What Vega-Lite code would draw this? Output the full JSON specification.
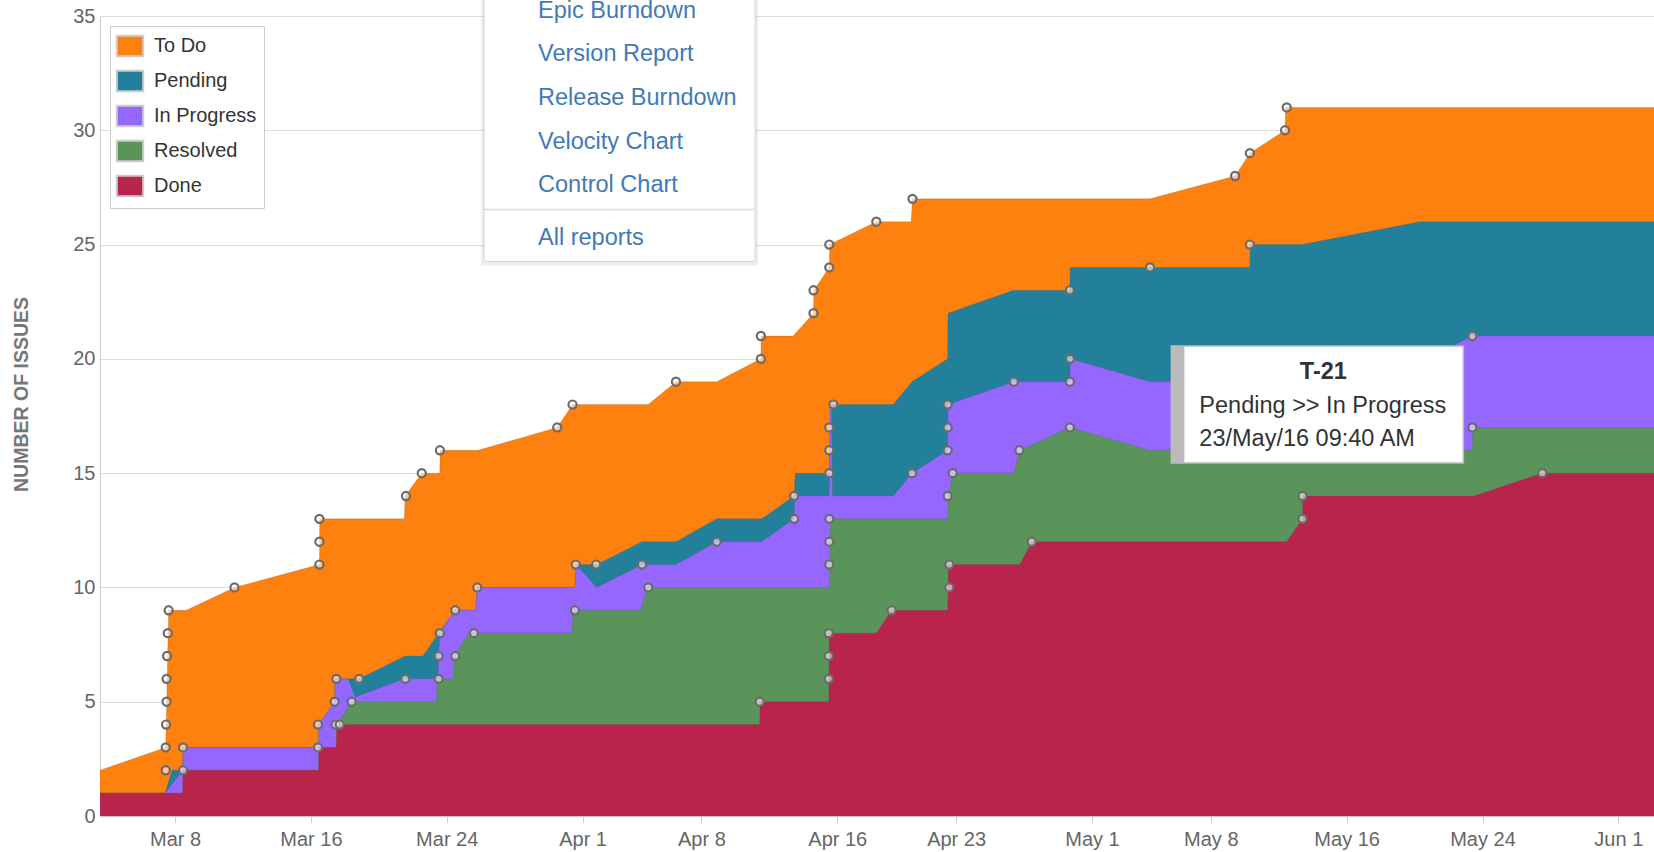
{
  "$schema": "https://vega.github.io/schema/vega-lite/v6.json",
  "width": 1554,
  "height": 800,
  "autosize": {"type": "none"},
  "padding": {"left": 100, "top": 16, "right": 0, "bottom": 36},
  "background": "white",
  "config": {
    "view": {"stroke": null},
    "font": "Liberation Sans",
    "legend": {
      "orient": "top-left",
      "offset": 10,
      "padding": 7,
      "rowPadding": 5,
      "labelOffset": 11,
      "labelFontSize": 20,
      "labelColor": "#333333",
      "labelFont": "Liberation Sans",
      "symbolSize": 576,
      "symbolType": "M-1.1,-0.85H1.1V0.85H-1.1Z",
      "symbolStrokeWidth": 2,
      "symbolStrokeColor": "#cccccc",
      "symbolOpacity": 1,
      "strokeColor": "#cccccc",
      "fillColor": "#ffffff"
    }
  },
  "datasets": {
    "flow": [
      {"s": "To Do", "t": "2016-03-03T13:55", "v": 2},
      {"s": "To Do", "t": "2016-03-07T10:48", "v": 3},
      {"s": "To Do", "t": "2016-03-07T14:53", "v": 9},
      {"s": "To Do", "t": "2016-03-08T15:50", "v": 9},
      {"s": "To Do", "t": "2016-03-11T12:00", "v": 10},
      {"s": "To Do", "t": "2016-03-16T12:00", "v": 11},
      {"s": "To Do", "t": "2016-03-16T12:29", "v": 13},
      {"s": "To Do", "t": "2016-03-21T12:00", "v": 13},
      {"s": "To Do", "t": "2016-03-21T13:10", "v": 14},
      {"s": "To Do", "t": "2016-03-22T12:43", "v": 15},
      {"s": "To Do", "t": "2016-03-23T14:10", "v": 15},
      {"s": "To Do", "t": "2016-03-23T14:38", "v": 16},
      {"s": "To Do", "t": "2016-03-25T20:24", "v": 16},
      {"s": "To Do", "t": "2016-03-30T12:14", "v": 17},
      {"s": "To Do", "t": "2016-03-31T09:50", "v": 18},
      {"s": "To Do", "t": "2016-04-04T20:53", "v": 18},
      {"s": "To Do", "t": "2016-04-06T12:00", "v": 19},
      {"s": "To Do", "t": "2016-04-08T21:36", "v": 19},
      {"s": "To Do", "t": "2016-04-11T12:00", "v": 20},
      {"s": "To Do", "t": "2016-04-11T12:29", "v": 21},
      {"s": "To Do", "t": "2016-04-13T09:36", "v": 21},
      {"s": "To Do", "t": "2016-04-14T14:24", "v": 22},
      {"s": "To Do", "t": "2016-04-14T14:53", "v": 23},
      {"s": "To Do", "t": "2016-04-15T12:43", "v": 24},
      {"s": "To Do", "t": "2016-04-15T13:12", "v": 25},
      {"s": "To Do", "t": "2016-04-18T07:12", "v": 26},
      {"s": "To Do", "t": "2016-04-20T08:24", "v": 26},
      {"s": "To Do", "t": "2016-04-20T10:19", "v": 27},
      {"s": "To Do", "t": "2016-05-04T10:05", "v": 27},
      {"s": "To Do", "t": "2016-05-09T10:19", "v": 28},
      {"s": "To Do", "t": "2016-05-10T07:12", "v": 29},
      {"s": "To Do", "t": "2016-05-12T08:53", "v": 30},
      {"s": "To Do", "t": "2016-05-12T09:36", "v": 31},
      {"s": "To Do", "t": "2016-06-04T00:00", "v": 31},

      {"s": "Pending", "t": "2016-03-03T13:55", "v": 1},
      {"s": "Pending", "t": "2016-03-07T09:50", "v": 1},
      {"s": "Pending", "t": "2016-03-07T19:41", "v": 2},
      {"s": "Pending", "t": "2016-03-08T10:48", "v": 2},
      {"s": "Pending", "t": "2016-03-08T11:17", "v": 3},
      {"s": "Pending", "t": "2016-03-16T10:48", "v": 3},
      {"s": "Pending", "t": "2016-03-16T11:17", "v": 4},
      {"s": "Pending", "t": "2016-03-17T09:36", "v": 5},
      {"s": "Pending", "t": "2016-03-17T10:05", "v": 6},
      {"s": "Pending", "t": "2016-03-18T20:10", "v": 6},
      {"s": "Pending", "t": "2016-03-21T13:26", "v": 7},
      {"s": "Pending", "t": "2016-03-22T14:24", "v": 7},
      {"s": "Pending", "t": "2016-03-23T12:29", "v": 8},
      {"s": "Pending", "t": "2016-03-24T12:00", "v": 9},
      {"s": "Pending", "t": "2016-03-25T16:48", "v": 9},
      {"s": "Pending", "t": "2016-03-25T19:12", "v": 10},
      {"s": "Pending", "t": "2016-03-31T13:12", "v": 10},
      {"s": "Pending", "t": "2016-03-31T14:53", "v": 11},
      {"s": "Pending", "t": "2016-04-01T20:10", "v": 11},
      {"s": "Pending", "t": "2016-04-04T12:00", "v": 12},
      {"s": "Pending", "t": "2016-04-06T12:00", "v": 12},
      {"s": "Pending", "t": "2016-04-08T21:36", "v": 13},
      {"s": "Pending", "t": "2016-04-11T13:12", "v": 13},
      {"s": "Pending", "t": "2016-04-13T11:02", "v": 14},
      {"s": "Pending", "t": "2016-04-13T12:29", "v": 15},
      {"s": "Pending", "t": "2016-04-15T12:43", "v": 15},
      {"s": "Pending", "t": "2016-04-15T14:24", "v": 18},
      {"s": "Pending", "t": "2016-04-19T07:12", "v": 18},
      {"s": "Pending", "t": "2016-04-20T09:36", "v": 19},
      {"s": "Pending", "t": "2016-04-22T12:00", "v": 20},
      {"s": "Pending", "t": "2016-04-22T12:29", "v": 22},
      {"s": "Pending", "t": "2016-04-26T08:53", "v": 23},
      {"s": "Pending", "t": "2016-04-29T16:48", "v": 23},
      {"s": "Pending", "t": "2016-04-29T17:17", "v": 24},
      {"s": "Pending", "t": "2016-05-10T07:12", "v": 24},
      {"s": "Pending", "t": "2016-05-10T07:41", "v": 25},
      {"s": "Pending", "t": "2016-05-13T08:24", "v": 25},
      {"s": "Pending", "t": "2016-05-20T07:12", "v": 26},
      {"s": "Pending", "t": "2016-06-04T00:00", "v": 26},

      {"s": "In Progress", "t": "2016-03-03T13:55", "v": 1},
      {"s": "In Progress", "t": "2016-03-07T09:50", "v": 1},
      {"s": "In Progress", "t": "2016-03-08T10:48", "v": 2},
      {"s": "In Progress", "t": "2016-03-08T11:17", "v": 3},
      {"s": "In Progress", "t": "2016-03-16T10:48", "v": 3},
      {"s": "In Progress", "t": "2016-03-16T11:17", "v": 4},
      {"s": "In Progress", "t": "2016-03-17T09:36", "v": 5},
      {"s": "In Progress", "t": "2016-03-17T10:05", "v": 6},
      {"s": "In Progress", "t": "2016-03-18T04:48", "v": 6},
      {"s": "In Progress", "t": "2016-03-18T14:24", "v": 5.2},
      {"s": "In Progress", "t": "2016-03-21T12:00", "v": 6},
      {"s": "In Progress", "t": "2016-03-23T12:00", "v": 6},
      {"s": "In Progress", "t": "2016-03-23T12:29", "v": 7},
      {"s": "In Progress", "t": "2016-03-23T14:24", "v": 8},
      {"s": "In Progress", "t": "2016-03-24T10:48", "v": 9},
      {"s": "In Progress", "t": "2016-03-25T16:48", "v": 9},
      {"s": "In Progress", "t": "2016-03-25T19:12", "v": 10},
      {"s": "In Progress", "t": "2016-03-31T13:12", "v": 10},
      {"s": "In Progress", "t": "2016-03-31T14:53", "v": 11},
      {"s": "In Progress", "t": "2016-04-01T20:10", "v": 10},
      {"s": "In Progress", "t": "2016-04-04T12:00", "v": 11},
      {"s": "In Progress", "t": "2016-04-06T12:00", "v": 11},
      {"s": "In Progress", "t": "2016-04-08T21:36", "v": 12},
      {"s": "In Progress", "t": "2016-04-11T13:12", "v": 12},
      {"s": "In Progress", "t": "2016-04-13T11:02", "v": 13},
      {"s": "In Progress", "t": "2016-04-13T12:00", "v": 14},
      {"s": "In Progress", "t": "2016-04-15T12:43", "v": 14},
      {"s": "In Progress", "t": "2016-04-15T13:55", "v": 18},
      {"s": "In Progress", "t": "2016-04-15T15:50", "v": 18},
      {"s": "In Progress", "t": "2016-04-15T17:17", "v": 14},
      {"s": "In Progress", "t": "2016-04-19T07:12", "v": 14},
      {"s": "In Progress", "t": "2016-04-20T09:36", "v": 15},
      {"s": "In Progress", "t": "2016-04-22T12:00", "v": 16},
      {"s": "In Progress", "t": "2016-04-22T12:29", "v": 18},
      {"s": "In Progress", "t": "2016-04-26T10:19", "v": 19},
      {"s": "In Progress", "t": "2016-04-29T16:48", "v": 19},
      {"s": "In Progress", "t": "2016-04-29T17:17", "v": 20},
      {"s": "In Progress", "t": "2016-05-04T10:05", "v": 19},
      {"s": "In Progress", "t": "2016-05-17T21:36", "v": 19},
      {"s": "In Progress", "t": "2016-05-23T09:40", "v": 21},
      {"s": "In Progress", "t": "2016-06-04T00:00", "v": 21},

      {"s": "Resolved", "t": "2016-03-03T13:55", "v": 1},
      {"s": "Resolved", "t": "2016-03-08T10:48", "v": 1},
      {"s": "Resolved", "t": "2016-03-08T11:17", "v": 2},
      {"s": "Resolved", "t": "2016-03-16T10:48", "v": 2},
      {"s": "Resolved", "t": "2016-03-16T11:17", "v": 3},
      {"s": "Resolved", "t": "2016-03-17T12:00", "v": 3},
      {"s": "Resolved", "t": "2016-03-17T12:29", "v": 4},
      {"s": "Resolved", "t": "2016-03-18T09:36", "v": 5},
      {"s": "Resolved", "t": "2016-03-23T09:36", "v": 5},
      {"s": "Resolved", "t": "2016-03-23T10:05", "v": 6},
      {"s": "Resolved", "t": "2016-03-24T09:36", "v": 6},
      {"s": "Resolved", "t": "2016-03-24T10:48", "v": 7},
      {"s": "Resolved", "t": "2016-03-25T07:12", "v": 8},
      {"s": "Resolved", "t": "2016-03-31T08:24", "v": 8},
      {"s": "Resolved", "t": "2016-03-31T11:17", "v": 9},
      {"s": "Resolved", "t": "2016-04-04T09:36", "v": 9},
      {"s": "Resolved", "t": "2016-04-04T20:24", "v": 10},
      {"s": "Resolved", "t": "2016-04-15T12:43", "v": 10},
      {"s": "Resolved", "t": "2016-04-15T14:24", "v": 13},
      {"s": "Resolved", "t": "2016-04-22T12:00", "v": 13},
      {"s": "Resolved", "t": "2016-04-22T13:12", "v": 14},
      {"s": "Resolved", "t": "2016-04-22T19:12", "v": 15},
      {"s": "Resolved", "t": "2016-04-26T09:36", "v": 15},
      {"s": "Resolved", "t": "2016-04-26T18:14", "v": 16},
      {"s": "Resolved", "t": "2016-04-29T16:48", "v": 17},
      {"s": "Resolved", "t": "2016-05-04T10:05", "v": 16},
      {"s": "Resolved", "t": "2016-05-23T09:40", "v": 16},
      {"s": "Resolved", "t": "2016-05-23T10:05", "v": 17},
      {"s": "Resolved", "t": "2016-06-04T00:00", "v": 17},

      {"s": "Done", "t": "2016-03-03T13:55", "v": 1},
      {"s": "Done", "t": "2016-03-08T10:48", "v": 1},
      {"s": "Done", "t": "2016-03-08T11:17", "v": 2},
      {"s": "Done", "t": "2016-03-16T10:48", "v": 2},
      {"s": "Done", "t": "2016-03-16T11:17", "v": 3},
      {"s": "Done", "t": "2016-03-17T12:00", "v": 3},
      {"s": "Done", "t": "2016-03-17T12:29", "v": 4},
      {"s": "Done", "t": "2016-04-11T10:19", "v": 4},
      {"s": "Done", "t": "2016-04-11T10:48", "v": 5},
      {"s": "Done", "t": "2016-04-15T12:00", "v": 5},
      {"s": "Done", "t": "2016-04-15T12:29", "v": 8},
      {"s": "Done", "t": "2016-04-18T07:12", "v": 8},
      {"s": "Done", "t": "2016-04-19T04:48", "v": 9},
      {"s": "Done", "t": "2016-04-22T12:00", "v": 9},
      {"s": "Done", "t": "2016-04-22T13:12", "v": 11},
      {"s": "Done", "t": "2016-04-26T18:14", "v": 11},
      {"s": "Done", "t": "2016-04-27T10:48", "v": 12},
      {"s": "Done", "t": "2016-05-12T11:17", "v": 12},
      {"s": "Done", "t": "2016-05-13T09:36", "v": 13},
      {"s": "Done", "t": "2016-05-13T10:05", "v": 14},
      {"s": "Done", "t": "2016-05-23T12:00", "v": 14},
      {"s": "Done", "t": "2016-05-27T12:29", "v": 15},
      {"s": "Done", "t": "2016-06-04T00:00", "v": 15}
    ],
    "dots": [
      {"t": "2016-03-07T10:48", "v": 2},
      {"t": "2016-03-07T10:48", "v": 3},
      {"t": "2016-03-07T11:17", "v": 4},
      {"t": "2016-03-07T12:00", "v": 5},
      {"t": "2016-03-07T12:00", "v": 6},
      {"t": "2016-03-07T12:43", "v": 7},
      {"t": "2016-03-07T13:41", "v": 8},
      {"t": "2016-03-07T14:53", "v": 9},
      {"t": "2016-03-08T11:17", "v": 2},
      {"t": "2016-03-08T11:17", "v": 3},
      {"t": "2016-03-11T12:00", "v": 10},
      {"t": "2016-03-16T10:05", "v": 3},
      {"t": "2016-03-16T10:05", "v": 4},
      {"t": "2016-03-16T12:00", "v": 11},
      {"t": "2016-03-16T12:00", "v": 12},
      {"t": "2016-03-16T12:00", "v": 13},
      {"t": "2016-03-17T09:36", "v": 5},
      {"t": "2016-03-17T12:00", "v": 6},
      {"t": "2016-03-17T10:48", "v": 4},
      {"t": "2016-03-17T16:48", "v": 4},
      {"t": "2016-03-18T09:36", "v": 5},
      {"t": "2016-03-18T20:10", "v": 6},
      {"t": "2016-03-21T13:26", "v": 6},
      {"t": "2016-03-21T14:24", "v": 14},
      {"t": "2016-03-22T12:43", "v": 15},
      {"t": "2016-03-23T12:29", "v": 6},
      {"t": "2016-03-23T12:29", "v": 7},
      {"t": "2016-03-23T14:24", "v": 8},
      {"t": "2016-03-23T14:24", "v": 16},
      {"t": "2016-03-24T12:00", "v": 7},
      {"t": "2016-03-24T12:00", "v": 9},
      {"t": "2016-03-25T14:24", "v": 8},
      {"t": "2016-03-25T19:12", "v": 10},
      {"t": "2016-03-30T12:14", "v": 17},
      {"t": "2016-03-31T09:50", "v": 18},
      {"t": "2016-03-31T13:12", "v": 9},
      {"t": "2016-03-31T14:24", "v": 11},
      {"t": "2016-04-01T19:12", "v": 11},
      {"t": "2016-04-04T12:00", "v": 11},
      {"t": "2016-04-04T20:53", "v": 10},
      {"t": "2016-04-06T12:00", "v": 19},
      {"t": "2016-04-08T21:36", "v": 12},
      {"t": "2016-04-11T10:19", "v": 5},
      {"t": "2016-04-11T12:00", "v": 20},
      {"t": "2016-04-11T12:00", "v": 21},
      {"t": "2016-04-13T11:02", "v": 13},
      {"t": "2016-04-13T11:02", "v": 14},
      {"t": "2016-04-14T14:24", "v": 22},
      {"t": "2016-04-14T14:24", "v": 23},
      {"t": "2016-04-15T12:43", "v": 24},
      {"t": "2016-04-15T12:43", "v": 25},
      {"t": "2016-04-15T12:00", "v": 6},
      {"t": "2016-04-15T12:00", "v": 7},
      {"t": "2016-04-15T12:00", "v": 8},
      {"t": "2016-04-15T12:43", "v": 11},
      {"t": "2016-04-15T12:43", "v": 12},
      {"t": "2016-04-15T12:43", "v": 13},
      {"t": "2016-04-15T12:43", "v": 15},
      {"t": "2016-04-15T12:43", "v": 16},
      {"t": "2016-04-15T12:43", "v": 17},
      {"t": "2016-04-15T18:29", "v": 18},
      {"t": "2016-04-18T07:12", "v": 26},
      {"t": "2016-04-19T04:48", "v": 9},
      {"t": "2016-04-20T09:36", "v": 15},
      {"t": "2016-04-20T10:19", "v": 27},
      {"t": "2016-04-22T12:00", "v": 14},
      {"t": "2016-04-22T12:00", "v": 16},
      {"t": "2016-04-22T12:00", "v": 17},
      {"t": "2016-04-22T12:00", "v": 18},
      {"t": "2016-04-22T14:24", "v": 10},
      {"t": "2016-04-22T14:24", "v": 11},
      {"t": "2016-04-22T19:12", "v": 15},
      {"t": "2016-04-26T09:36", "v": 19},
      {"t": "2016-04-26T17:31", "v": 16},
      {"t": "2016-04-27T10:48", "v": 12},
      {"t": "2016-04-29T16:48", "v": 17},
      {"t": "2016-04-29T16:48", "v": 19},
      {"t": "2016-04-29T16:48", "v": 20},
      {"t": "2016-04-29T16:48", "v": 23},
      {"t": "2016-05-04T10:05", "v": 24},
      {"t": "2016-05-09T10:19", "v": 28},
      {"t": "2016-05-10T07:12", "v": 29},
      {"t": "2016-05-10T07:12", "v": 25},
      {"t": "2016-05-12T08:53", "v": 30},
      {"t": "2016-05-12T11:17", "v": 31},
      {"t": "2016-05-13T09:36", "v": 13},
      {"t": "2016-05-13T09:36", "v": 14},
      {"t": "2016-05-23T09:40", "v": 17},
      {"t": "2016-05-23T09:40", "v": 21},
      {"t": "2016-05-27T12:29", "v": 15}
    ],
    "menu": [
      {"item": "Epic Burndown", "t": "2016-03-29T09:07", "v": 34.9},
      {"item": "Version Report", "t": "2016-03-29T09:07", "v": 33.03},
      {"item": "Release Burndown", "t": "2016-03-29T09:07", "v": 31.12},
      {"item": "Velocity Chart", "t": "2016-03-29T09:07", "v": 29.2},
      {"item": "Control Chart", "t": "2016-03-29T09:07", "v": 27.29},
      {"item": "All reports", "t": "2016-03-29T09:07", "v": 25.0}
    ],
    "tip": [
      {"key": "T-21", "change": "Pending >> In Progress", "when": "23/May/16 09:40 AM", "t": "2016-05-23T09:40", "v": 21}
    ]
  },
  "layer": [
    {
      "data": {"name": "flow"},
      "transform": [{"filter": "datum.s === 'To Do'"}],
      "mark": {"type": "area", "clip": true, "opacity": 1, "stroke": "#555555", "strokeWidth": 0.8, "strokeOpacity": 0.25},
      "encoding": {
        "x": {
          "field": "t", "type": "temporal",
          "scale": {"domain": [{"year": 2016, "month": 3, "date": 3, "hours": 13, "minutes": 55}, {"year": 2016, "month": 6, "date": 3, "hours": 2, "minutes": 24}]},
          "axis": {
            "title": null,
            "values": [
              {"year": 2016, "month": 3, "date": 8}, {"year": 2016, "month": 3, "date": 16}, {"year": 2016, "month": 3, "date": 24},
              {"year": 2016, "month": 4, "date": 1}, {"year": 2016, "month": 4, "date": 8}, {"year": 2016, "month": 4, "date": 16},
              {"year": 2016, "month": 4, "date": 23}, {"year": 2016, "month": 5, "date": 1}, {"year": 2016, "month": 5, "date": 8},
              {"year": 2016, "month": 5, "date": 16}, {"year": 2016, "month": 5, "date": 24}, {"year": 2016, "month": 6, "date": 1}
            ],
            "format": "%b %-d",
            "grid": false,
            "labelFlush": false,
            "labelOverlap": false,
            "labelFontSize": 20,
            "labelFont": "Liberation Sans",
            "labelColor": "#666666",
            "labelPadding": 6,
            "tickSize": 7,
            "tickColor": "#cccccc",
            "domainColor": "#c8c8c8",
            "domainWidth": 1.5
          }
        },
        "y": {
          "field": "v", "type": "quantitative", "stack": null,
          "scale": {"domain": [0, 35], "nice": false},
          "axis": {
            "title": "NUMBER OF ISSUES",
            "titleFontSize": 19.5,
            "titleFontWeight": "bold",
            "titleColor": "#777777",
            "titleFont": "Liberation Sans",
            "titleX": -79,
            "titleY": 378,
            "titleAngle": -90,
            "titleAlign": "center",
            "titleBaseline": "middle",
            "values": [0, 5, 10, 15, 20, 25, 30, 35],
            "labelFlush": false,
            "labelFontSize": 20,
            "labelFont": "Liberation Sans",
            "labelColor": "#666666",
            "labelPadding": 5,
            "ticks": false,
            "grid": true,
            "gridColor": "#dddddd",
            "domainColor": "#cccccc"
          }
        },
        "color": {
          "field": "s", "type": "nominal",
          "scale": {"domain": ["To Do", "Pending", "In Progress", "Resolved", "Done"], "range": ["#fe800f", "#23809a", "#9567ff", "#5a945a", "#b8244c"]},
          "legend": {
            "title": null,
            "encode": {"symbols": {"update": {"stroke": {"value": "#cccccc"}, "strokeWidth": {"value": 2}, "opacity": {"value": 1}}}}
          }
        }
      }
    },
    {
      "data": {"name": "flow"},
      "transform": [{"filter": "datum.s === 'Pending'"}],
      "mark": {"type": "area", "clip": true, "opacity": 1, "stroke": "#555555", "strokeWidth": 0.8, "strokeOpacity": 0.25},
      "encoding": {
        "x": {"field": "t", "type": "temporal"},
        "y": {"field": "v", "type": "quantitative", "stack": null},
        "color": {"field": "s", "type": "nominal"}
      }
    },
    {
      "data": {"name": "flow"},
      "transform": [{"filter": "datum.s === 'In Progress'"}],
      "mark": {"type": "area", "clip": true, "opacity": 1, "stroke": "#555555", "strokeWidth": 0.8, "strokeOpacity": 0.25},
      "encoding": {
        "x": {"field": "t", "type": "temporal"},
        "y": {"field": "v", "type": "quantitative", "stack": null},
        "color": {"field": "s", "type": "nominal"}
      }
    },
    {
      "data": {"name": "flow"},
      "transform": [{"filter": "datum.s === 'Resolved'"}],
      "mark": {"type": "area", "clip": true, "opacity": 1, "stroke": "#555555", "strokeWidth": 0.8, "strokeOpacity": 0.25},
      "encoding": {
        "x": {"field": "t", "type": "temporal"},
        "y": {"field": "v", "type": "quantitative", "stack": null},
        "color": {"field": "s", "type": "nominal"}
      }
    },
    {
      "data": {"name": "flow"},
      "transform": [{"filter": "datum.s === 'Done'"}],
      "mark": {"type": "area", "clip": true, "opacity": 1, "stroke": "#555555", "strokeWidth": 0.8, "strokeOpacity": 0.25},
      "encoding": {
        "x": {"field": "t", "type": "temporal"},
        "y": {"field": "v", "type": "quantitative", "stack": null},
        "color": {"field": "s", "type": "nominal"}
      }
    },
    {
      "data": {"name": "dots"},
      "mark": {"type": "circle", "size": 66, "fill": "#ffffff", "fillOpacity": 0.55, "stroke": "#6b6b6b", "strokeWidth": 2.2, "opacity": 1},
      "encoding": {
        "x": {"field": "t", "type": "temporal"},
        "y": {"field": "v", "type": "quantitative"}
      }
    },
    {
      "data": {"values": [{}]},
      "mark": {"type": "rect", "fill": "#000000", "opacity": 0.07, "xOffset": -3, "x2Offset": 3, "y2Offset": 4},
      "encoding": {
        "x": {"datum": {"year": 2016, "month": 3, "date": 26, "hours": 4, "minutes": 48}, "type": "temporal"},
        "x2": {"datum": {"year": 2016, "month": 4, "date": 11, "hours": 3, "minutes": 50}},
        "y": {"datum": 37, "type": "quantitative"},
        "y2": {"datum": 24.26}
      }
    },
    {
      "data": {"values": [{}]},
      "mark": {"type": "rect", "fill": "#ffffff", "stroke": "#d4d4d4", "strokeWidth": 1, "cornerRadius": 3},
      "encoding": {
        "x": {"datum": {"year": 2016, "month": 3, "date": 26, "hours": 4, "minutes": 48}, "type": "temporal"},
        "x2": {"datum": {"year": 2016, "month": 4, "date": 11, "hours": 3, "minutes": 50}},
        "y": {"datum": 37, "type": "quantitative"},
        "y2": {"datum": 24.26}
      }
    },
    {
      "data": {"values": [{}]},
      "mark": {"type": "rule", "color": "#dddddd", "strokeWidth": 1.5},
      "encoding": {
        "x": {"datum": {"year": 2016, "month": 3, "date": 26, "hours": 4, "minutes": 48}, "type": "temporal"},
        "x2": {"datum": {"year": 2016, "month": 4, "date": 11, "hours": 3, "minutes": 50}},
        "y": {"datum": 26.53, "type": "quantitative"}
      }
    },
    {
      "data": {"name": "menu"},
      "mark": {"type": "text", "align": "left", "baseline": "alphabetic", "fontSize": 23.5, "font": "Liberation Sans", "color": "#4279b8"},
      "encoding": {
        "x": {"field": "t", "type": "temporal"},
        "y": {"field": "v", "type": "quantitative"},
        "text": {"field": "item"}
      }
    },
    {
      "data": {"name": "tip"},
      "mark": {"type": "rect", "fill": "#ffffff", "stroke": "#bbbbbb", "strokeWidth": 1.5, "xOffset": -301, "x2Offset": -9, "yOffset": 10, "y2Offset": 127},
      "encoding": {
        "x": {"field": "t", "type": "temporal"},
        "x2": {"field": "t"},
        "y": {"field": "v", "type": "quantitative"},
        "y2": {"field": "v"}
      }
    },
    {
      "data": {"name": "tip"},
      "mark": {"type": "rect", "fill": "#bbbbbb", "xOffset": -301, "x2Offset": -288, "yOffset": 10, "y2Offset": 127},
      "encoding": {
        "x": {"field": "t", "type": "temporal"},
        "x2": {"field": "t"},
        "y": {"field": "v", "type": "quantitative"},
        "y2": {"field": "v"}
      }
    },
    {
      "data": {"name": "tip"},
      "mark": {"type": "text", "align": "center", "baseline": "alphabetic", "dx": -149, "dy": 43, "fontSize": 23.5, "fontWeight": "bold", "font": "Liberation Sans", "color": "#333333"},
      "encoding": {
        "x": {"field": "t", "type": "temporal"},
        "y": {"field": "v", "type": "quantitative"},
        "text": {"field": "key"}
      }
    },
    {
      "data": {"name": "tip"},
      "mark": {"type": "text", "align": "left", "baseline": "alphabetic", "dx": -273, "dy": 77, "fontSize": 23.5, "font": "Liberation Sans", "color": "#333333"},
      "encoding": {
        "x": {"field": "t", "type": "temporal"},
        "y": {"field": "v", "type": "quantitative"},
        "text": {"field": "change"}
      }
    },
    {
      "data": {"name": "tip"},
      "mark": {"type": "text", "align": "left", "baseline": "alphabetic", "dx": -273, "dy": 110, "fontSize": 23.5, "font": "Liberation Sans", "color": "#333333"},
      "encoding": {
        "x": {"field": "t", "type": "temporal"},
        "y": {"field": "v", "type": "quantitative"},
        "text": {"field": "when"}
      }
    }
  ]
}
